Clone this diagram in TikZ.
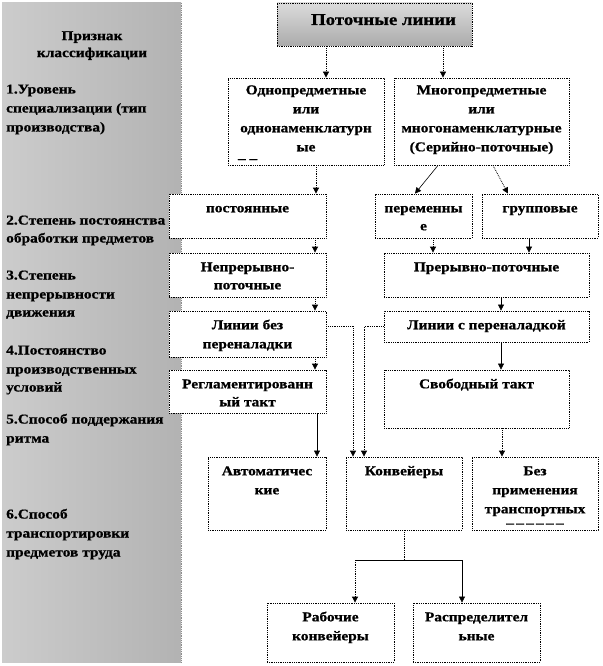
\documentclass[tikz,border=0pt]{standalone}
\usepackage{fontspec}
\setmainfont{Liberation Serif}[FakeStretch=1.14,BoldFeatures={FakeBold=0.8}]
\usepackage{tikz}
\usetikzlibrary{arrows.meta,positioning}
\newcommand{\cell}[4][5pt]{\parbox[t][#3][t]{#2}{\centering\vspace*{#1}\strut#4\par}}
\newcommand{\crittext}[1]{\parbox[t]{176pt}{\raggedright\strut#1\par}}

\begin{document}
\begin{tikzpicture}[x=1pt,y=-1pt,
  box/.style={draw=black,densely dotted,line width=0.8pt,fill=white,inner sep=0pt,font=\bfseries\fontsize{13.5}{19}\selectfont},
  crit/.style={anchor=north west,inner sep=0pt,font=\bfseries\fontsize{13.5}{19}\selectfont},
  dotarr/.style={densely dotted,line width=0.8pt,-{Triangle[width=6pt,length=6pt]}},
  arr/.style={line width=0.6pt,-{Triangle[width=6pt,length=6pt]}}]
    \useasboundingbox (0,0) rectangle (602,666);
    % left column with the classification criteria
    \node[inner sep=0pt,minimum width=179,minimum height=659,left color=black!20,right color=black!30] at (91.5,332.5) (panel) {};
    \draw[densely dotted,black!45,line width=0.8pt] (panel.north east) -- (panel.south east);
    \node[crit,anchor=north] at (92,28) (crit0) {\parbox[t]{170pt}{\centering\fontsize{13.5}{17}\selectfont\strut Признак\\классификации\par}};
    \node[crit] at (6,80) (crit1) {\crittext{1.Уровень\\специализации (тип\\производства)}};
    \node[crit] at (6,211) (crit2) {\crittext{2.Степень постоянства\\[-1pt]обработки предметов}};
    \node[crit] at (6,266) (crit3) {\crittext{3.Степень\\непрерывности\\[-1pt]движения}};
    \node[crit] at (6,341) (crit4) {\crittext{4.Постоянство\\производственных\\[-1pt]условий}};
    \node[crit] at (6,410) (crit5) {\crittext{5.Способ поддержания\\ритма}};
    \node[crit] at (6,505) (crit6) {\crittext{6.Способ\\транспортировки\\предметов труда}};

    % boxes
    \node[box,top color=black!14,bottom color=black!33] at (374.5,24.5) (top) {\parbox[t][43pt][t]{195pt}{\centering\fontsize{16.5}{20}\selectfont\vspace*{8pt}\strut\hspace*{18pt}Поточные линии\par}};
    \node[box] at (306,121.5) (odno) {\cell[3pt]{156pt}{87pt}{Однопредметные\\или\\однонаменклатурн\\ые\par\vspace{-12pt}\raggedright\hspace*{10pt}\_\ \_}};
    \node[box] at (481.5,121.5) (mnogo) {\cell[3pt]{175pt}{87pt}{Многопредметные\\или\\многонаменклатурные\\(Серийно-поточные)}};
    \node[box] at (247.5,216) (postoyan) {\cell{157pt}{44pt}{постоянные}};
    \node[box] at (423.5,216) (peremen) {\cell{97pt}{44pt}{переменны\\[-1pt]е}};
    \node[box] at (540,216) (grupp) {\cell{116pt}{44pt}{групповые}};
    \node[box] at (247.5,275) (nepreryv) {\cell{157pt}{44pt}{Непрерывно-\\[-1pt]поточные}};
    \node[box] at (486.5,275) (preryv) {\cell{205pt}{44pt}{Прерывно-поточные}};
    \node[box] at (247.5,334) (bezper) {\cell{157pt}{46pt}{Линии без\\переналадки}};
    \node[box] at (486.5,326.5) (sper) {\cell{205pt}{31pt}{Линии с переналадкой}};
    \node[box] at (247.5,391.5) (reglam) {\cell{157pt}{43pt}{Регламентированн\\[-1pt]ый такт}};
    \node[box] at (476.5,399) (svob) {\cell{185pt}{58pt}{Свободный такт}};
    \node[box] at (267,493.5) (avto) {\cell{118pt}{73pt}{Автоматичес\\кие}};
    \node[box] at (404,493.5) (konv) {\cell{116pt}{73pt}{Конвейеры}};
    \node[box] at (535,493.5) (bezpr) {\cell{126pt}{73pt}{Без\\применения\\транспортных\\[-5pt]–\,–\,–\,–\,–\,–}};
    \node[box] at (330.5,632.5) (rab) {\cell{127pt}{59pt}{Рабочие\\конвейеры}};
    \node[box] at (476.5,632.5) (raspr) {\cell{127pt}{59pt}{Распределител\\ьные}};

    % connectors
    \draw[dotarr] ([xshift=-48.5pt]top.south) -- ([xshift=20pt]odno.north);
    \draw[dotarr] ([xshift=68.5pt]top.south) -- ([xshift=-38.5pt]mnogo.north);
    \draw[dotarr] ([xshift=10pt]odno.south) -- ([xshift=68.5pt]postoyan.north);
    \draw[arr] ([xshift=-43.5pt]mnogo.south) -- ([xshift=-8.5pt]peremen.north);
    \draw[dotarr] ([xshift=11.5pt]mnogo.south) -- ([xshift=-32pt]grupp.north);
    \draw[dotarr] ([xshift=67.5pt]postoyan.south) -- ([xshift=67.5pt]nepreryv.north);
    \draw[dotarr] ([xshift=9.5pt]peremen.south) -- ([xshift=-53.5pt]preryv.north);
    \draw[arr] ([xshift=-11pt]grupp.south) -- ([xshift=42.5pt]preryv.north);
    \draw[dotarr] ([xshift=67.5pt]nepreryv.south) -- ([xshift=67.5pt]bezper.north);
    \draw[arr] ([xshift=14.5pt]preryv.south) -- ([xshift=14.5pt]sper.north);
    \draw[dotarr] ([xshift=67.5pt]bezper.south) -- ([xshift=67.5pt]reglam.north);
    \draw[arr] ([xshift=14.5pt]sper.south) -- ([xshift=24.5pt]svob.north);
    \draw[dotarr] ([yshift=8pt]bezper.east) -| ([xshift=-51pt]konv.north);
    \draw[dotarr] (sper.west) -| ([xshift=-40pt]konv.north);
    \draw[arr] ([xshift=69.5pt]reglam.south) -- ([xshift=50pt]avto.north);
    \draw[dotarr] ([xshift=25.5pt]svob.south) -- ([xshift=-33pt]bezpr.north);
    \coordinate (split) at (404,560);
    \coordinate (rabTurn) at (355,560);
    \draw[densely dotted,line width=0.8pt] (konv.south) -- (split);
    \draw[line width=0.6pt] (split) -- (rabTurn);
    \draw[dotarr] (rabTurn) -- ([xshift=24.5pt]rab.north);
    \draw[arr] (split) -| ([xshift=-14.5pt]raspr.north);
\end{tikzpicture}
\end{document}
